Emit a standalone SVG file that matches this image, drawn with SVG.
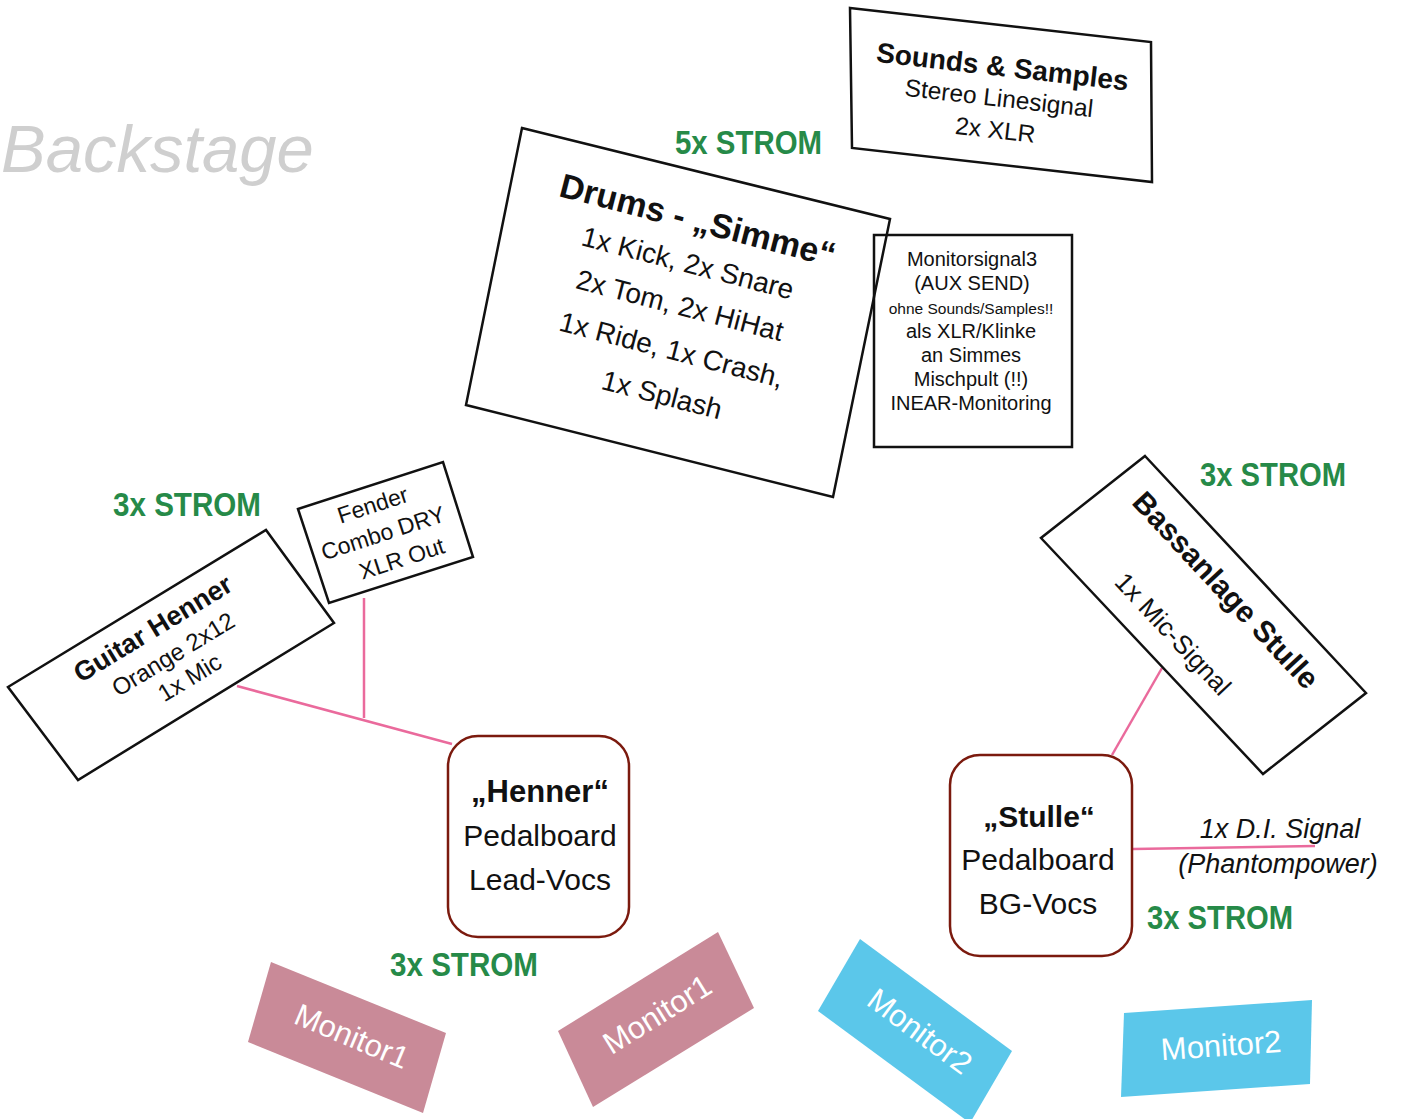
<svg xmlns="http://www.w3.org/2000/svg" width="1402" height="1119" viewBox="0 0 1402 1119">
<style>
text{font-family:"Liberation Sans",Arial,sans-serif;fill:#111;text-anchor:middle}
.box{fill:none;stroke:#111;stroke-width:2.5}
.pb{fill:#fff;stroke:#7b1a0e;stroke-width:2.5}
.strom{font-weight:bold;font-size:33px;fill:#268a48;text-anchor:start}
.b{font-weight:bold}
.mon{fill:#fff;font-size:31px}
.link{stroke:#ea6a9c;stroke-width:2.5;fill:none}
</style>
<rect width="1402" height="1119" fill="#fff"/>
<text x="1" y="172" style="font-size:67px;font-style:italic;fill:#cfcfcf;text-anchor:start">Backstage</text>

<g id="connectors">
<line class="link" x1="237" y1="686" x2="452" y2="744"/>
<line class="link" x1="364" y1="598" x2="364" y2="718"/>
<line class="link" x1="1162" y1="668" x2="1112" y2="755"/>
<line class="link" x1="1133" y1="849" x2="1315" y2="846"/>
</g>

<g id="drums">
<polygon class="box" points="522,128 890,219 833,497 466,405"/>
<g transform="translate(680,305) rotate(14.5)">
<text class="b" x="-4" y="-75" font-size="34">Drums - „Simme“</text>
<text x="-3" y="-33" font-size="28">1x Kick, 2x Snare</text>
<text x="0" y="10" font-size="28">2x Tom, 2x HiHat</text>
<text x="3" y="55" font-size="28">1x Ride, 1x Crash,</text>
<text x="5" y="101" font-size="28">1x Splash</text>
</g>
</g>

<g id="strom-drums"><text class="strom" x="675" y="154" textLength="147" lengthAdjust="spacingAndGlyphs">5x STROM</text></g>

<g id="sounds">
<polygon class="box" points="850,8 1151,42 1152,182 852,148"/>
<g transform="translate(999,98) rotate(6.5)">
<text class="b" x="0" y="-22" font-size="28">Sounds &amp; Samples</text>
<text x="0" y="8.5" font-size="24.5">Stereo Linesignal</text>
<text x="0" y="40.5" font-size="24.5">2x XLR</text>
</g>
</g>

<g id="monitorsignal">
<rect class="box" x="874" y="235" width="198" height="212"/>
<text x="972" y="266" font-size="20">Monitorsignal3</text>
<text x="972" y="290" font-size="20">(AUX SEND)</text>
<text x="971" y="314" font-size="15.5">ohne Sounds/Samples!!</text>
<text x="971" y="338" font-size="20">als XLR/Klinke</text>
<text x="971" y="362" font-size="20">an Simmes</text>
<text x="971" y="386" font-size="20">Mischpult (!!)</text>
<text x="971" y="410" font-size="20">INEAR-Monitoring</text>
</g>

<g id="strom-guitar"><text class="strom" x="113" y="516" textLength="148" lengthAdjust="spacingAndGlyphs">3x STROM</text></g>

<g id="guitar">
<polygon class="box" points="8,687 266,530 334,623 78,780"/>
<g transform="translate(173,654) rotate(-31.3)">
<text class="b" x="-4" y="-23" font-size="27">Guitar Henner</text>
<text x="0" y="8.5" font-size="24">Orange 2x12</text>
<text x="2" y="37" font-size="24">1x Mic</text>
</g>
</g>

<g id="fender">
<polygon class="box" points="298,509 443,462 473,557 329,603"/>
<g transform="translate(383,533) rotate(-18)">
<text x="-1" y="-22" font-size="23">Fender</text>
<text x="0" y="8" font-size="23">Combo DRY</text>
<text x="10" y="38" font-size="23">XLR Out</text>
</g>
</g>

<g id="henner">
<rect class="pb" x="448" y="736" width="181" height="201" rx="30"/>
<text class="b" x="540" y="802" font-size="31">„Henner“</text>
<text x="540" y="846" font-size="30">Pedalboard</text>
<text x="540" y="890" font-size="30">Lead-Vocs</text>
</g>

<g id="strom-henner"><text class="strom" x="390" y="976" textLength="148" lengthAdjust="spacingAndGlyphs">3x STROM</text></g>

<g id="strom-bass"><text class="strom" x="1200" y="486" textLength="146" lengthAdjust="spacingAndGlyphs">3x STROM</text></g>

<g id="bass">
<polygon class="box" points="1145,456 1366,693 1263,774 1041,538"/>
<g transform="translate(1200,612) rotate(47)">
<text class="b" x="1.6" y="-23.5" font-size="30">Bassanlage Stulle</text>
<text x="-2.3" y="43.7" font-size="26">1x Mic-Signal</text>
</g>
</g>

<g id="stulle">
<rect class="pb" x="950" y="755" width="182" height="201" rx="30"/>
<text class="b" x="1039" y="827" font-size="30">„Stulle“</text>
<text x="1038" y="870" font-size="30">Pedalboard</text>
<text x="1038" y="914" font-size="30">BG-Vocs</text>
</g>

<g id="di-label">
<text x="1280" y="838" font-size="27" font-style="italic">1x D.I. Signal</text>
<text x="1278" y="873" font-size="27" font-style="italic">(Phantompower)</text>
</g>

<g id="strom-stulle"><text class="strom" x="1147" y="929" textLength="146" lengthAdjust="spacingAndGlyphs">3x STROM</text></g>

<g id="monitor1-left">
<polygon points="271,962 446,1033 423,1113 248,1042" fill="#c98a98"/>
<text class="mon" transform="translate(352,1036) rotate(22.8)" y="11">Monitor1</text>
</g>

<g id="monitor1-mid">
<polygon points="558,1031 718,932 754,1008 593,1107" fill="#c98a98"/>
<text class="mon" transform="translate(657,1014) rotate(-31.9)" y="11">Monitor1</text>
</g>

<g id="monitor2-mid">
<polygon points="860,939 1012,1051 970,1123 818,1011" fill="#5bc7ea"/>
<text class="mon" transform="translate(920,1031) rotate(36.4)" y="11">Monitor2</text>
</g>

<g id="monitor2-right">
<polygon points="1124,1013 1312,1000 1310,1084 1121,1097" fill="#5bc7ea"/>
<text class="mon" transform="translate(1221,1045) rotate(-4)" y="11">Monitor2</text>
</g>
</svg>
